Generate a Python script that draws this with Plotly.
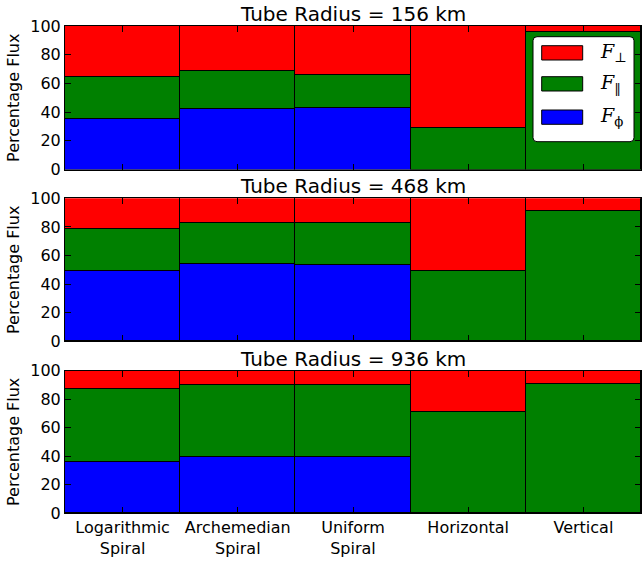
import plotly.graph_objects as go
from plotly.subplots import make_subplots

categories = ["Logarithmic<br>Spiral", "Archemedian<br>Spiral", "Uniform<br>Spiral", "Horizontal", "Vertical"]
radii = ["156", "468", "936"]

f_phi_156 = [35.2, 42.2, 42.6, 0, 0]
f_par_156 = [29.3, 26.7, 23.5, 29.1, 96.0]
f_perp_156 = [35.5, 31.1, 33.9, 70.9, 4.0]

f_phi_468 = [49.2, 53.6, 53.1, 0, 0]
f_par_468 = [29.3, 28.9, 29.4, 48.7, 90.6]
f_perp_468 = [21.5, 17.5, 17.5, 51.3, 9.4]

f_phi_936 = [35.8, 39.8, 39.3, 0, 0]
f_par_936 = [51.8, 50.6, 51.1, 71.5, 91.1]
f_perp_936 = [12.4, 9.6, 9.6, 28.5, 8.9]

series_names = ["F_phi", "F_par", "F_perp"]
series_colors = ["#0000ff", "#008000", "#ff0000"]
legend_labels = ["<i>F</i><sub>⊥</sub>", "<i>F</i><sub>‖</sub>", "<i>F</i><sub>ϕ</sub>"]
legend_colors = ["#ff0000", "#008000", "#0000ff"]

panels = [
    (f_phi_156, f_par_156, f_perp_156),
    (f_phi_468, f_par_468, f_perp_468),
    (f_phi_936, f_par_936, f_perp_936),
]

W, H = 642, 561
ml, mr, mt, mb = 65, 1, 26, 48
ph = H - mt - mb

def py(p):
    return (H - mb - p) / ph

domains = [(py(169.5), 1.0), (py(341.3), py(198.3)), (0.0, py(370.7))]

fig = make_subplots(rows=3, cols=1)
FONT = "DejaVu Sans"

for i, vals in enumerate(panels):
    for name, color, v in zip(series_names, series_colors, vals):
        fig.add_trace(go.Bar(x=categories, y=v, name=name, width=1,
                             marker=dict(color=color, line=dict(color="black", width=1)),
                             showlegend=False), row=i + 1, col=1)
    ax = "" if i == 0 else str(i + 1)
    fig.layout["yaxis" + ax].domain = domains[i]
    fig.add_annotation(text=f"Tube Radius = {radii[i]} km", xref=f"x{ax} domain", yref=f"y{ax} domain",
                       x=0.5, y=1, yanchor="bottom", xanchor="center", showarrow=False,
                       font=dict(size=20, color="black", family=FONT), yshift=-2)

fig.update_xaxes(range=[-0.5, 4.5], showline=True, linecolor="black", linewidth=1, mirror="ticks",
                 ticks="inside", ticklen=6, tickcolor="black", showgrid=False, zeroline=False,
                 tickfont=dict(size=16, color="black", family=FONT))
fig.update_xaxes(showticklabels=False, row=1, col=1)
fig.update_xaxes(showticklabels=False, row=2, col=1)
fig.update_yaxes(range=[0, 100], tickvals=[0, 20, 40, 60, 80, 100], showline=True, linecolor="black",
                 linewidth=1, mirror="ticks", ticks="inside", ticklen=6, tickcolor="black",
                 showgrid=False, zeroline=False, tickfont=dict(size=16, color="black", family=FONT),
                 title=dict(text="Percentage Flux", font=dict(size=16, color="black", family=FONT), standoff=6))

# custom legend in top panel
def dx(p):
    return (p - ml) / (W - ml - mr)

def dy(p):
    return (169.5 - p) / 143.5

x0, x1, y0, y1 = dx(533), dx(634), dy(141.7), dy(36.7)
rx, ry = 4 / (W - ml - mr), 4 / 143.5
path = (f"M {x0+rx},{y0} L {x1-rx},{y0} Q {x1},{y0} {x1},{y0+ry} L {x1},{y1-ry} Q {x1},{y1} {x1-rx},{y1} "
        f"L {x0+rx},{y1} Q {x0},{y1} {x0},{y1-ry} L {x0},{y0+ry} Q {x0},{y0} {x0+rx},{y0} Z")
fig.add_shape(type="path", path=path, xref="x domain", yref="y domain", fillcolor="white",
              line=dict(color="black", width=1), layer="above")
patch_tops = [45.7, 76.7, 110.0]
for lab, col, top in zip(legend_labels, legend_colors, patch_tops):
    fig.add_shape(type="rect", xref="x domain", yref="y domain", x0=dx(541.7), x1=dx(582.7),
                  y0=dy(top + 14.3), y1=dy(top), fillcolor=col, line=dict(color="black", width=1), layer="above")
    fig.add_annotation(text=lab, xref="x domain", yref="y domain", x=dx(598), y=dy(top + 7),
                       xanchor="left", yanchor="middle", showarrow=False,
                       font=dict(size=19, color="black", family="DejaVu Serif"))

fig.update_layout(width=W, height=H, margin=dict(l=ml, r=mr, t=mt, b=mb), barmode="stack", bargap=0,
                  plot_bgcolor="white", paper_bgcolor="white", showlegend=False,
                  font=dict(family=FONT, color="black"))

fig.write_html("out.html")
